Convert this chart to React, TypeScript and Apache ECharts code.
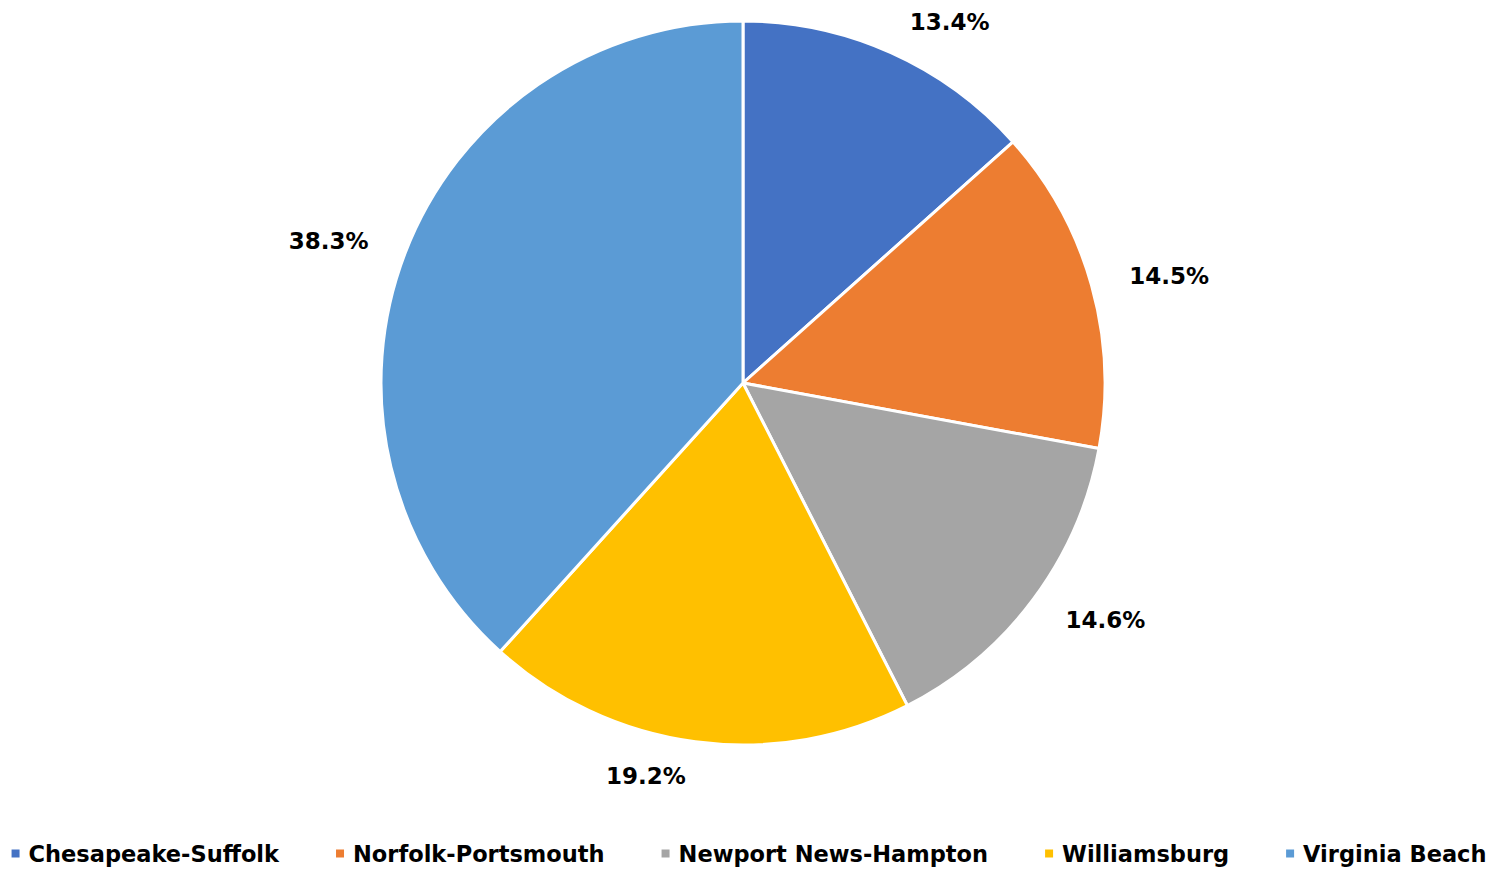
import React, { useEffect, useRef } from "react";
import * as echarts from "echarts";

const categories = ["Chesapeake-Suffolk", "Norfolk-Portsmouth", "Newport News-Hampton", "Williamsburg", "Virginia Beach"];
const values = [13.4, 14.5, 14.6, 19.2, 38.3];
const colors = ["#4472C4", "#ED7D31", "#A5A5A5", "#FFC000", "#5B9BD5"];

const FONT = "DejaVu Sans";

export default function App() {
  const ref = useRef<HTMLDivElement>(null);
  useEffect(() => {
    const chart = echarts.init(ref.current!, null, { renderer: "svg" });
    chart.setOption({
      animation: false,
      color: colors,
      textStyle: { fontFamily: FONT },
      legend: {
        bottom: 3,
        left: "center",
        itemWidth: 10,
        itemHeight: 10,
        itemGap: 55,
        icon: "rect",
        textStyle: { fontSize: 22.5, fontWeight: "bold", color: "#000", fontFamily: FONT, padding: [0, 0, 0, 3] },
        data: categories,
      },
      series: [
        {
          type: "pie",
          center: [743, 383],
          radius: [0, 362],
          startAngle: 90,
          clockwise: true,
          data: categories.map((c, i) => ({ name: c, value: values[i] })),
          itemStyle: { borderColor: "#fff", borderWidth: 3 },
          label: {
            show: true,
            position: "outside",
            formatter: (p: any) => p.value.toFixed(1) + "%",
            fontSize: 23,
            fontWeight: "bold",
            color: "#000",
            fontFamily: FONT,
          },
          labelLine: { show: false, length: 34, length2: 0 },
        },
      ],
    });
    return () => chart.dispose();
  }, []);
  return <div ref={ref} style={{ position: "fixed", left: 0, top: 0, width: 1496, height: 873, background: "#fff" }} />;
}
